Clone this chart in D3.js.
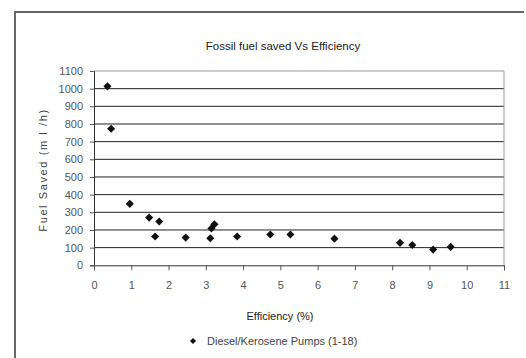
<!DOCTYPE html>
<html><head><meta charset="utf-8">
<script src="https://cdn.jsdelivr.net/npm/d3@7"></script>
<style>
html,body{margin:0;padding:0;background:#fff;}
text{font-family:"Liberation Sans",Arial,sans-serif;}
</style></head>
<body><svg id="c" width="526" height="358"></svg>
<script>
const efficiency = [0.36,0.46,0.96,1.48,1.75,1.64,2.46,3.12,3.15,3.23,3.84,4.73,5.27,6.45,8.21,8.54,9.10,9.57];
const fuelSaved  = [1013,773,348,270,248,163,157,153,209,232,163,174,174,151,127,115,89,104];
const xTicks = [0,1,2,3,4,5,6,7,8,9,10,11];
const yTicks = [0,100,200,300,400,500,600,700,800,900,1000,1100];
const seriesName = "Diesel/Kerosene Pumps (1-18)";

const svg = d3.select("#c");
const L=94, R=504, T=71, B=265.3;
const x = d3.scaleLinear().domain([0,11]).range([L,R]);
const y = d3.scaleLinear().domain([0,1100]).range([B,T]);

// outer frame
svg.append("path").attr("d","M15,370 L15,12 L524,12").attr("fill","none").attr("stroke","#666").attr("stroke-width",2);

// title
svg.append("text").attr("x",283).attr("y",50).attr("text-anchor","middle").attr("font-size",11.5).attr("fill","#222").text("Fossil fuel saved Vs Efficiency");

// gridlines
svg.append("g").selectAll("line").data(yTicks.filter(d=>d>0&&d<1100)).join("line")
 .attr("x1",L).attr("x2",R).attr("y1",d=>y(d)).attr("y2",d=>y(d)).attr("stroke","#222").attr("stroke-width",1);
// plot border top/right
svg.append("path").attr("d",`M${L},${y(1100)} L${R},${y(1100)} L${R},${B}`).attr("fill","none").attr("stroke","#999").attr("stroke-width",1);

// axes
const yAxis = d3.axisLeft(y).tickValues(yTicks).tickSize(4).tickPadding(7).tickFormat(d3.format("d"));
const gy = svg.append("g").attr("transform",`translate(${L},0)`).call(yAxis);
const xAxis = d3.axisBottom(x).tickValues(xTicks).tickSize(5).tickPadding(11).tickFormat(d3.format("d"));
const gx = svg.append("g").attr("transform",`translate(0,${B})`).call(xAxis);
[gx,gy].forEach(g=>{
  g.select(".domain").attr("stroke","#333");
  g.selectAll(".tick line").attr("stroke","#555");
  g.selectAll("text").attr("font-size",11).attr("fill","#555").attr("font-family","Liberation Sans, Arial, sans-serif");
});

// axis titles
svg.append("text").attr("x",280).attr("y",320).attr("text-anchor","middle").attr("font-size",11).attr("fill","#222").text("Efficiency (%)");
svg.append("text").attr("transform","translate(47,170) rotate(-90)").attr("text-anchor","middle").attr("font-size",11).attr("fill","#444").attr("letter-spacing","1.6px").text("Fuel Saved (m l /h)");

// points
const diamond = d3.symbol().type(d3.symbolDiamond2).size(42);
svg.append("g").selectAll("path").data(efficiency.map((e,i)=>[e,fuelSaved[i]])).join("path")
 .attr("d",diamond).attr("transform",d=>`translate(${x(d[0])},${y(d[1])})`).attr("fill","#111");

// legend
svg.append("path").attr("d",d3.symbol().type(d3.symbolDiamond2).size(24)).attr("transform","translate(193,341)").attr("fill","#111");
svg.append("text").attr("x",207).attr("y",345).attr("font-size",11).attr("fill","#444").text(seriesName);
</script></body></html>
